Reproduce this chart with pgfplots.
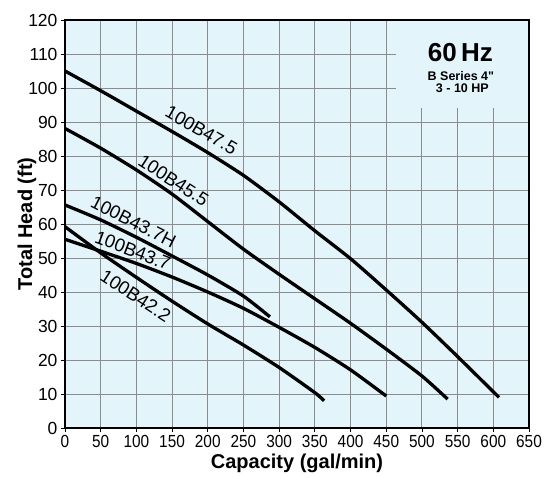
\documentclass[border=0pt]{standalone}
\usepackage{fontspec}
\setmainfont{Liberation Sans}
\usepackage{pgfplots}
\pgfplotsset{compat=1.18}
\definecolor{bgblue}{RGB}{228,244,251}
\definecolor{gridgray}{RGB}{140,140,140}
\tikzset{curve/.style={black, line width=3.3pt, line join=round, no markers, smooth, tension=0.4}}

\begin{document}
\begin{tikzpicture}
\begin{axis}[
  name=ax,
  scale only axis,
  width=464pt, height=408pt,
  xmin=0, xmax=650, ymin=0, ymax=120,
  xtick={0,50,...,650}, ytick={0,10,...,120},
  xtick pos=left, ytick pos=left,
  tick align=outside, major tick length=4pt,
  grid=major,
  major grid style={gridgray, line width=0.9pt},
  axis background/.style={fill=bgblue},
  axis line style={black, line width=1.2pt},
  tick style={black, line width=0.8pt},
  /pgf/number format/assume math mode=true,
  yticklabel style={font=\fontsize{17.5}{20}\selectfont},
  xticklabel style={font=\fontsize{17.5}{20}\selectfont, xscale=0.88},
  xlabel={Capacity (gal/min)},
  xlabel style={font=\fontsize{20}{22}\selectfont\bfseries,
    at={(axis description cs:0.5,0)}, anchor=center, yshift=-35pt},
]
% 100B47.5
\addplot[curve] coordinates {(0,105) (50,99.2) (100,93.2) (150,87.2) (200,81) (250,74.3)
  (300,66.5) (350,58) (400,49.8) (450,40.6) (500,31.1) (550,21) (608,9)};
% 100B45.5
\addplot[curve] coordinates {(0,88.1) (50,82.3) (100,75.9) (150,68.8) (200,60.7) (250,52.6)
  (300,45.2) (350,38) (400,30.8) (450,23.2) (500,15.3) (536,8.5)};
% 100B43.7H
\addplot[curve] coordinates {(0,65.6) (50,61.2) (100,56.1) (150,50.6) (200,45) (250,38.8) (287,32.7)};
% 100B43.7
\addplot[curve] coordinates {(0,55.5) (50,52) (100,48.4) (150,44.4) (200,40) (250,35.2)
  (300,29.6) (350,23.7) (400,17.1) (450,9.4)};
% 100B42.2
\addplot[curve] coordinates {(0,59.2) (50,51.5) (100,44.3) (150,37.3) (200,30.6) (250,24.4)
  (300,17.8) (350,10.4) (363,8)};

% inset box hiding the grid
\fill[bgblue] (axis cs:464,94) rectangle (axis cs:650,120);
\draw[black, line width=1.2pt] (axis cs:464,120) -- (axis cs:650,120) -- (axis cs:650,94);
\node[font=\fontsize{26}{28}\selectfont\bfseries] at (axis cs:554,110.4) {60\,Hz};
\node[font=\fontsize{12.5}{14}\selectfont\bfseries\addfontfeatures{Ligatures=TeXOff}] at (axis cs:554.6,103.5) {B Series 4"};
\node[font=\fontsize{12.5}{14}\selectfont\bfseries] at (axis cs:556.7,99.9) {3 - 10 HP};

% curve labels
\node[rotate=-30, font=\fontsize{18.5}{21}\selectfont] at (axis cs:191,87.6) {100B47.5};
\node[rotate=-33, font=\fontsize{18.5}{21}\selectfont] at (axis cs:152,72.8) {100B45.5};
\node[rotate=-27, font=\fontsize{18.5}{21}\selectfont] at (axis cs:96,60.6) {100B43.7H};
\node[rotate=-21, font=\fontsize{18.5}{21}\selectfont] at (axis cs:95,52.2) {100B43.7};
\node[rotate=-33, font=\fontsize{18.5}{21}\selectfont] at (axis cs:99,38.9) {100B42.2};
\end{axis}
\node[rotate=90, font=\fontsize{20}{22}\selectfont\bfseries] at ([xshift=-38pt]ax.west) {Total Head (ft)};
\pgfresetboundingbox
\path[use as bounding box] ([xshift=-65pt,yshift=-50pt]ax.south west) rectangle ([xshift=24pt,yshift=20pt]ax.north east);
\end{tikzpicture}
\end{document}
